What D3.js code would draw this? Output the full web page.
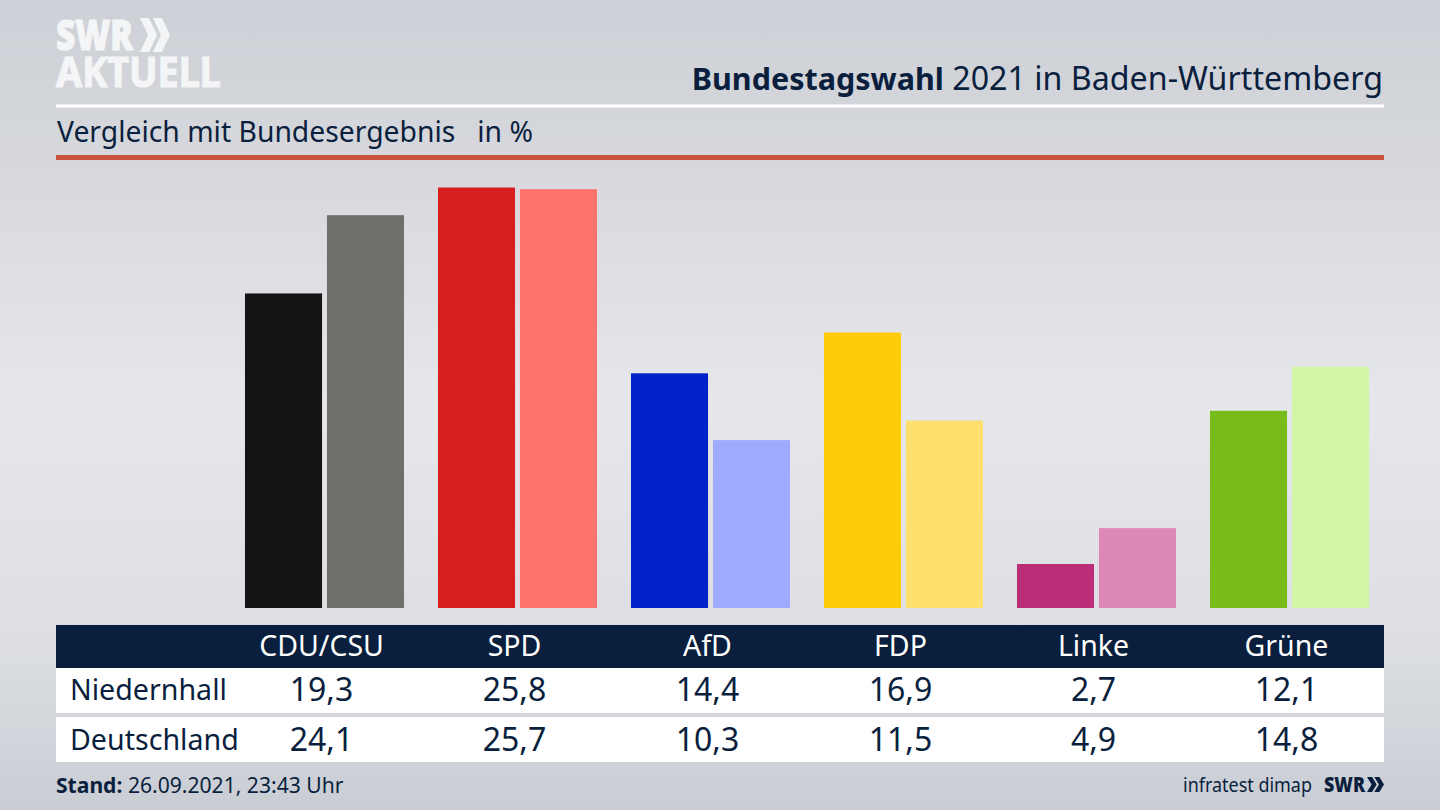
<!DOCTYPE html>
<html>
<head>
<meta charset="utf-8">
<script src="https://cdn.jsdelivr.net/npm/d3@7"></script>
<style>
  html, body { margin: 0; padding: 0; background: #d8dade; }
  svg { display: block; }
  text { font-family: "Noto Sans", sans-serif; fill: #0a1f3d; }
</style>
</head>
<body>
<div id="chart"></div>
<script>
const parties = ['CDU/CSU', 'SPD', 'AfD', 'FDP', 'Linke', 'Grüne'];
const seriesNames = ['Niedernhall', 'Deutschland'];
const niedernhall = [19.3, 25.8, 14.4, 16.9, 2.7, 12.1];
const deutschland = [24.1, 25.7, 10.3, 11.5, 4.9, 14.8];
const darkColors = ['#141414', '#d81f1d', '#0022c8', '#ffcc0a', '#bc2d77', '#78bc1c'];
const lightColors = ['#706f6c', '#ff736e', '#9eabff', '#ffdf6e', '#de88b6', '#d3f5a6'];

const width = 1440;
const height = 810;
const navy = '#0a1f3d';

const svg = d3.select('#chart')
    .append('svg')
    .attr('width', width)
    .attr('height', height);

// Background
const defs = svg.append('defs');
const bg = defs.append('linearGradient')
    .attr('id', 'bg')
    .attr('x1', 0).attr('y1', 0).attr('x2', 0).attr('y2', 1);
[[0, '#cdd0d6'], [0.2, '#d6d8dd'], [0.5, '#e6e7ea'], [0.8, '#dcdee2'], [1, '#c9cdd4']].forEach(d => {
    bg.append('stop').attr('offset', d[0]).attr('stop-color', d[1]);
});
svg.append('rect').attr('width', width).attr('height', height).attr('fill', 'url(#bg)');

// Logo
const chevrons = (x, y, w, h, fill) => {
    [0, 0.43].forEach(o => {
        const p = d3.path();
        const left = x + o * w;
        p.moveTo(left, y);
        p.lineTo(left + 0.3 * w, y);
        p.lineTo(left + 0.57 * w, y + 0.5 * h);
        p.lineTo(left + 0.3 * w, y + h);
        p.lineTo(left, y + h);
        p.lineTo(left + 0.27 * w, y + 0.5 * h);
        p.closePath();
        svg.append('path').attr('d', p.toString()).attr('fill', fill);
    });
};
const logo = svg.append('text')
    .attr('font-size', 42)
    .style('fill', '#f4f5f6')
    .style('stroke', '#f4f5f6')
    .style('stroke-width', 1.2);
logo.append('tspan').attr('x', 56).attr('y', 50).attr('font-weight', 900)
    .attr('textLength', 77).attr('lengthAdjust', 'spacingAndGlyphs')
    .text('SWR');
logo.append('tspan').attr('x', 56).attr('y', 87).attr('font-weight', 700)
    .attr('textLength', 165).attr('lengthAdjust', 'spacingAndGlyphs')
    .text('AKTUELL');
chevrons(140, 18, 30, 34, '#f4f5f6');

// Header
const title = svg.append('text').attr('x', 1383).attr('y', 90)
    .attr('text-anchor', 'end').attr('font-size', 32.2);
title.append('tspan').attr('font-weight', 700).attr('font-size', 30.5).text('Bundestagswahl');
title.append('tspan').text(' 2021 in Baden-Württemberg');

svg.append('rect').attr('x', 56).attr('y', 104.5).attr('width', 1328).attr('height', 3).attr('fill', '#fff');

svg.append('text').attr('x', 57).attr('y', 142).attr('font-size', 28.3)
    .attr('xml:space', 'preserve')
    .text('Vergleich mit Bundesergebnis   in %');

svg.append('rect').attr('x', 56).attr('y', 155).attr('width', 1328).attr('height', 5).attr('fill', '#c8523f');

// Bars
const x0 = d3.scaleBand().domain(parties).range([228, 1386]).paddingInner(0.176).paddingOuter(0.088);
const x1 = d3.scaleBand().domain(seriesNames).range([0, x0.bandwidth()]).paddingInner(0.06);
const y = d3.scaleLinear().domain([0, 25.8]).range([608, 187.5]);

const groups = svg.selectAll('.party')
    .data(parties)
    .enter()
    .append('g')
    .attr('class', 'party')
    .attr('transform', d => `translate(${x0(d)},0)`);

groups.append('rect')
    .attr('x', x1('Niedernhall'))
    .attr('y', (d, i) => y(niedernhall[i]))
    .attr('width', x1.bandwidth())
    .attr('height', (d, i) => y(0) - y(niedernhall[i]))
    .attr('fill', (d, i) => darkColors[i]);

groups.append('rect')
    .attr('x', x1('Deutschland'))
    .attr('y', (d, i) => y(deutschland[i]))
    .attr('width', x1.bandwidth())
    .attr('height', (d, i) => y(0) - y(deutschland[i]))
    .attr('fill', (d, i) => lightColors[i]);

// Table, its columns sit a little left of the bar groups
const cx = d => x0(d) + x0.bandwidth() / 2 - 3;
const fmt = v => d3.format('.1f')(v).replace('.', ',');

svg.append('rect').attr('x', 56).attr('y', 625).attr('width', 1328).attr('height', 43).attr('fill', navy);
svg.append('rect').attr('x', 56).attr('y', 668).attr('width', 1328).attr('height', 45).attr('fill', '#fff');
svg.append('rect').attr('x', 56).attr('y', 717).attr('width', 1328).attr('height', 45).attr('fill', '#fff');

svg.selectAll('.head')
    .data(parties)
    .enter()
    .append('text')
    .attr('class', 'head')
    .attr('x', cx)
    .attr('y', 656)
    .attr('text-anchor', 'middle')
    .attr('font-size', 28.5)
    .style('fill', '#fff')
    .text(d => d);

[[niedernhall, 700], [deutschland, 750]].forEach((row, r) => {
    svg.append('text').attr('x', 70).attr('y', row[1]).attr('font-size', 28.6).text(seriesNames[r]);
    svg.selectAll('.val' + r)
        .data(row[0])
        .enter()
        .append('text')
        .attr('class', 'val' + r)
        .attr('x', (d, i) => cx(parties[i]))
        .attr('y', row[1] + 1)
        .attr('text-anchor', 'middle')
        .attr('font-size', 32)
        .text(fmt);
});

// Footer
const stand = svg.append('text').attr('x', 56).attr('y', 793).attr('font-size', 21.1);
stand.append('tspan').attr('font-weight', 700).text('Stand:');
stand.append('tspan').text(' 26.09.2021, 23:43 Uhr');

svg.append('text').attr('x', 1183).attr('y', 792).attr('font-size', 20)
    .attr('textLength', 129).attr('lengthAdjust', 'spacingAndGlyphs')
    .text('infratest dimap');
svg.append('text').attr('x', 1324).attr('y', 792).attr('font-size', 21).attr('font-weight', 900)
    .attr('textLength', 41).attr('lengthAdjust', 'spacingAndGlyphs').text('SWR');
chevrons(1367, 777, 17, 15, navy);
</script>
</body>
</html>
